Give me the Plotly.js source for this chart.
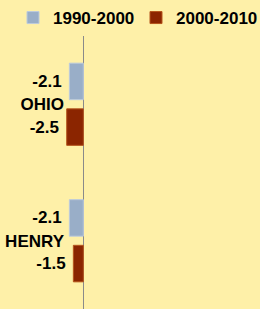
<!DOCTYPE html>
<html>
<head>
<meta charset="utf-8">
<script src="https://cdn.plot.ly/plotly-3.0.1.min.js"></script>
<style>
html,body{margin:0;padding:0;background:#FEF0A8;}
#chart{width:260px;height:309px;}
</style>
</head>
<body>
<div id="chart"></div>
<script>
const categories = ['OHIO', 'HENRY'];
const seriesNames = ['1990-2000', '2000-2010'];
const values1990 = [-2.1, -2.1];
const values2000 = [-2.5, -1.5];

const FONT = 'Liberation Sans, Arial, sans-serif';
const FS = 17;
const boldFont = {family: FONT, size: FS, color: '#000', weight: 'bold'};
const fmt = v => v.toFixed(1) + '\u00a0';

const traces = [
  {
    type: 'bar', orientation: 'h', name: seriesNames[0], legend: 'legend',
    y: categories, x: values1990,
    marker: {color: '#99AEC8', line: {color: '#BCCBDD', width: 1}},
    text: values1990.map(fmt),
    textposition: 'outside', cliponaxis: false,
    textfont: boldFont
  },
  {
    type: 'bar', orientation: 'h', name: seriesNames[1], legend: 'legend2',
    y: categories, x: values2000,
    marker: {color: '#8B2500', line: {color: '#B5541C', width: 1}},
    text: values2000.map(fmt),
    textposition: 'outside', cliponaxis: false,
    textfont: boldFont
  }
];

const legendBase = {
  orientation: 'h', xref: 'container', yref: 'container',
  xanchor: 'left', y: 1, yanchor: 'top',
  bgcolor: 'rgba(0,0,0,0)', borderwidth: 0,
  font: boldFont
};

const layout = {
  width: 260, height: 309,
  margin: {l: 0, r: 0, t: 34, b: 0, pad: 0},
  paper_bgcolor: '#FEF0A8', plot_bgcolor: '#FEF0A8',
  font: boldFont,
  barmode: 'group', bargap: 0.331, bargroupgap: 0.2,
  showlegend: true,
  legend: Object.assign({}, legendBase, {x: 13 / 260}),
  legend2: Object.assign({}, legendBase, {x: 136 / 260}),
  xaxis: {
    range: [-12.53, 26.57], showticklabels: false, showgrid: false,
    zeroline: true, zerolinecolor: '#8A8A8A', zerolinewidth: 1,
    showline: false, ticks: '', fixedrange: true
  },
  yaxis: {
    type: 'category', autorange: 'reversed',
    anchor: 'free', position: 64 / 260,
    showline: false, showgrid: false, zeroline: false, ticks: '',
    tickfont: boldFont,
    fixedrange: true
  },
  hovermode: false
};

Plotly.newPlot('chart', traces, layout, {displayModeBar: false, staticPlot: true});
</script>
</body>
</html>
